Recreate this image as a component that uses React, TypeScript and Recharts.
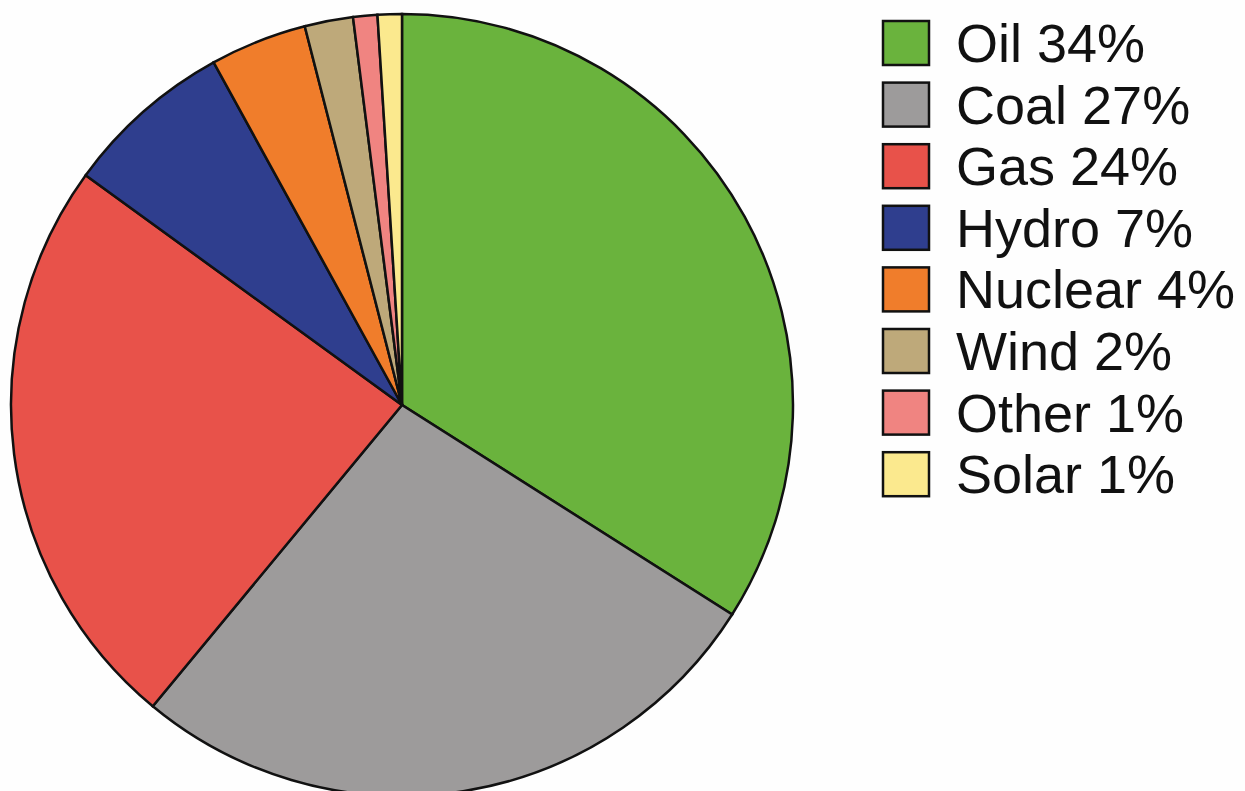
import React from "react";
import { PieChart, Pie, Cell, Legend } from "recharts";

const categories = ["Oil", "Coal", "Gas", "Hydro", "Nuclear", "Wind", "Other", "Solar"];
const shares = [34, 27, 24, 7, 4, 2, 1, 1];
const colors = ["#6ab33d", "#9d9b9b", "#e8524a", "#2f3e8e", "#f07d2b", "#bea97a", "#f08481", "#fbe98e"];

const data = categories.map((name, i) => ({ name, value: shares[i] }));

const LegendContent = () => (
  <svg width={362} height={520} style={{ display: "block" }}>
    {categories.map((name, i) => {
      const cy = 43 + i * 61.6;
      return (
        <g key={name}>
          <rect x={3} y={cy - 22} width={46} height={44} fill={colors[i]} stroke="#111" strokeWidth={2.5} />
          <text
            x={76}
            y={cy + 19}
            fontSize={54}
            fontFamily="'Liberation Sans', Arial, sans-serif"
            fill="#111"
          >
            {`${name} ${shares[i]}%`}
          </text>
        </g>
      );
    })}
  </svg>
);

export default function App() {
  return (
    <div style={{ position: "fixed", left: 0, top: 0, width: 1245, height: 791, background: "#fefefe", overflow: "hidden" }}>
      <PieChart width={1245} height={791} margin={{ top: 0, right: 0, bottom: 0, left: 0 }}>
        <Pie
          data={data}
          dataKey="value"
          nameKey="name"
          cx={402}
          cy={405}
          outerRadius={391}
          startAngle={90}
          endAngle={-270}
          stroke="#111"
          strokeWidth={2.5}
          isAnimationActive={false}
        >
          {data.map((d, i) => (
            <Cell key={d.name} fill={colors[i]} />
          ))}
        </Pie>
        <Legend
          content={<LegendContent />}
          wrapperStyle={{ position: "absolute", left: 880, top: 0, width: 362, height: 520 }}
        />
      </PieChart>
    </div>
  );
}
